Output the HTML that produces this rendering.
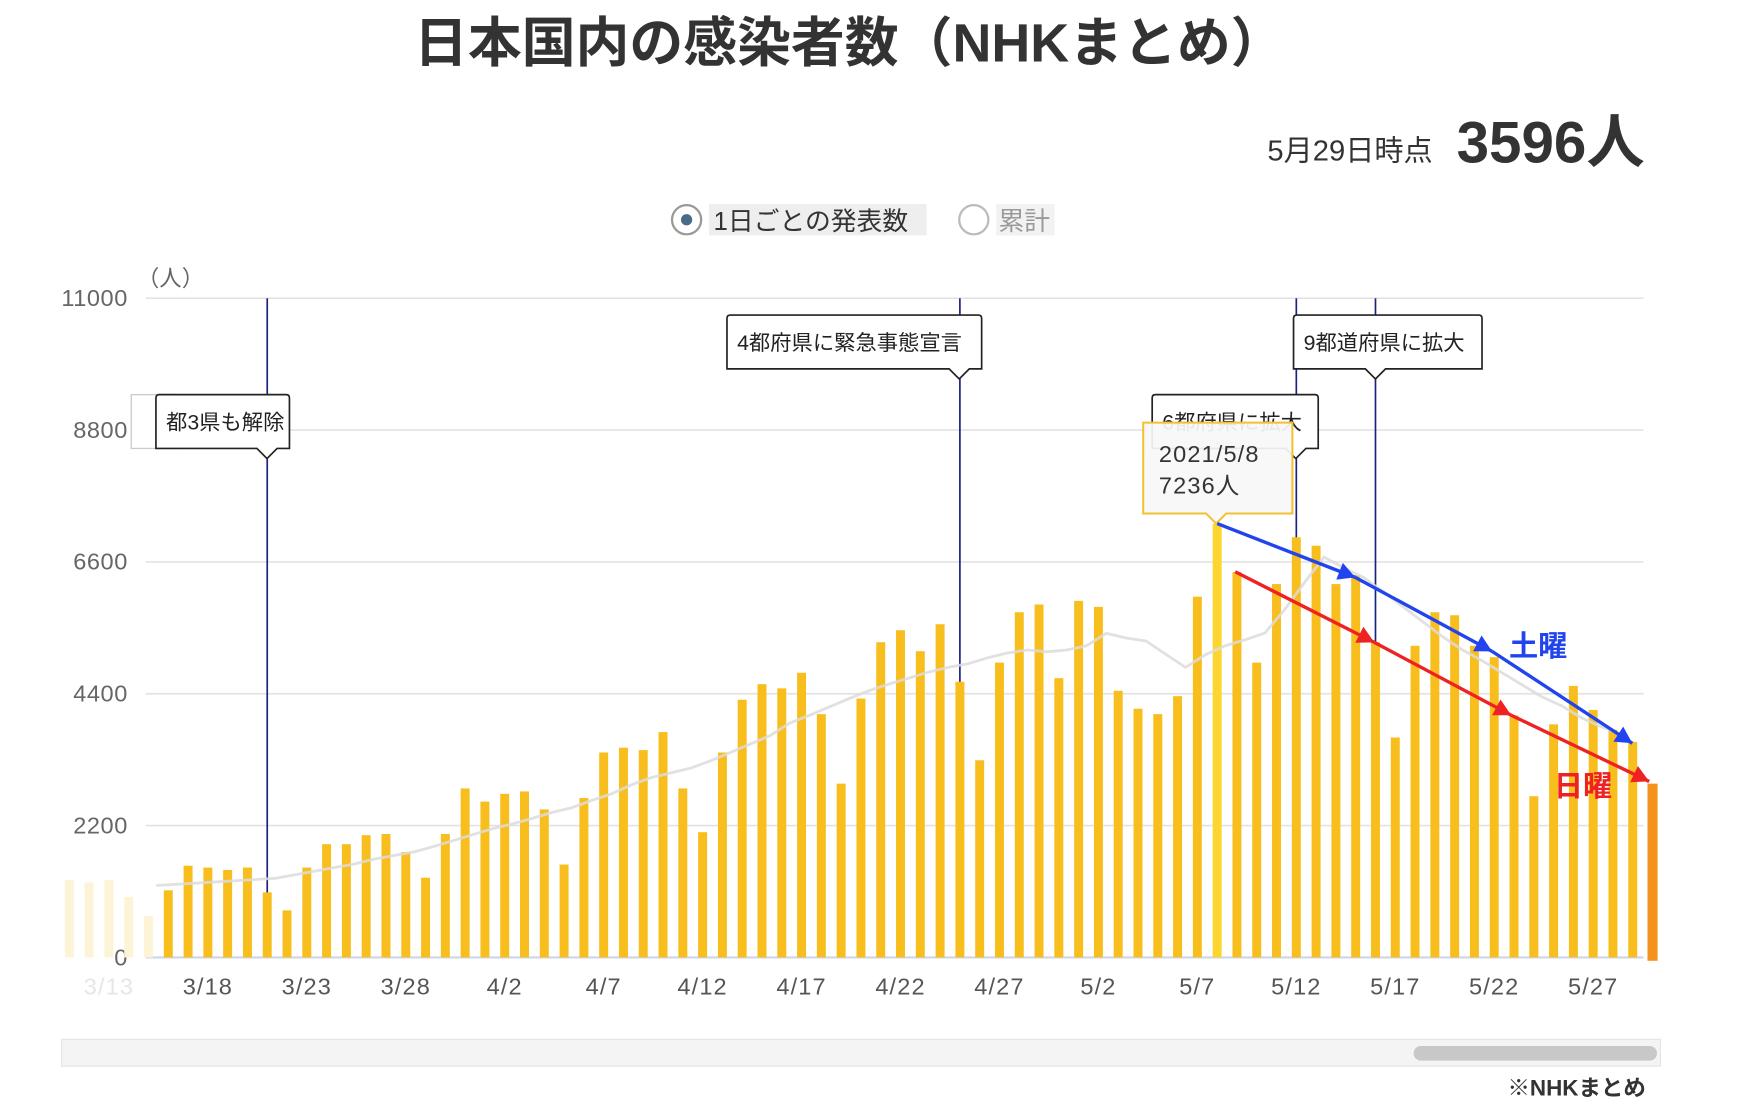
<!DOCTYPE html>
<html><head><meta charset="utf-8">
<style>
html,body{margin:0;padding:0;background:#fff;}
svg{display:block;font-family:"Liberation Sans","Noto Sans CJK JP",sans-serif;}
</style></head>
<body>
<svg id="chart" width="1758" height="1120" viewBox="0 0 1567 999" preserveAspectRatio="none" xmlns="http://www.w3.org/2000/svg">
<text x="757" y="55" text-anchor="middle" font-size="48" fill="#333" font-weight="bold">日本国内の感染者数（NHKまとめ）</text>
<text x="1277" y="143" text-anchor="end" font-size="26" fill="#333">5月29日時点</text>
<text x="1466" y="145" text-anchor="end" font-size="52" font-weight="bold" fill="#333">3596人</text>
<g>
<circle cx="612" cy="196" r="13" fill="#fff" stroke="#999" stroke-width="2"/>
<circle cx="612" cy="196" r="5" fill="#4a6a8a"/>
<rect x="632" y="182" width="194" height="28" fill="#eee"/>
<text x="636" y="205" font-size="23" fill="#333">1日ごとの発表数</text>
</g>
<g>
<circle cx="868" cy="196" r="13" fill="#fff" stroke="#bbb" stroke-width="2"/>
<rect x="888" y="182" width="52" height="28" fill="#f2f2f2"/>
<text x="890" y="205" font-size="23" fill="#999">累計</text>
</g>
<text x="122" y="255" font-size="20" fill="#666">（人）</text>
<g id="grid"></g>
<g id="events"></g>
<g id="bars"></g>
<g id="ma"></g>
<g id="xlabels"></g>
<g id="callouts"></g>
<g id="arrows"></g>
<rect x="55" y="927" width="1425" height="24" fill="#f4f4f4" stroke="#e4e4e4"/>
<rect x="1260" y="933" width="217" height="13" rx="6.5" fill="#c8c8c8"/>
<text x="1467" y="977" text-anchor="end" font-size="20" font-weight="bold" fill="#333">※NHKまとめ</text>
</svg>
<script>
const yTicks=[0,2200,4400,6600,8800,11000];
const xTickLabels=["3/13","3/18","3/23","3/28","4/2","4/7","4/12","4/17","4/22","4/27","5/2","5/7","5/12","5/17","5/22","5/27"];
const fadedValues=[1290,1250,1290,1010,690];
const dailyValues=[1120,1530,1500,1460,1500,1085,785,1500,1890,1890,2040,2060,1760,1330,2060,2820,2600,2730,2770,2470,1550,2660,3420,3500,3460,3760,2820,2090,3420,4300,4560,4490,4750,4060,2900,4320,5260,5460,5110,5560,4600,3290,4920,5760,5890,4660,5950,5850,4450,4150,4060,4360,6020,7236,6430,4920,6230,7010,6870,6230,6380,5260,3670,5200,5760,5710,5200,5010,4040,2690,3890,4530,4130,3800,3596];
const movingAvg=[1200,1220,1240,1260,1280,1300,1320,1380,1440,1500,1560,1640,1700,1760,1850,1950,2050,2150,2230,2320,2420,2500,2620,2730,2880,3000,3080,3160,3280,3420,3560,3700,3910,4040,4180,4320,4450,4560,4660,4760,4840,4900,5000,5080,5130,5100,5130,5200,5410,5330,5280,5060,4840,5050,5200,5300,5410,5800,6250,6680,6500,6340,6100,5850,5600,5350,5130,4950,4750,4550,4350,4200,4000,3850,3720];
const eventDays=[5,40,57,61];
const NS="http://www.w3.org/2000/svg";
const X0=150,DX=17.64,Y0=854,YH=588,YMAX=11000;
function xd(i){return X0+i*DX;}
function yv(v){return Y0-v/YMAX*YH;}
function mk(t,a,p){const e=document.createElementNS(NS,t);for(const k in a)e.setAttribute(k,a[k]);(p||document.getElementById('chart')).appendChild(e);return e;}
const grid=document.getElementById('grid');
yTicks.forEach(v=>{
 const l=mk('line',{x1:130,x2:1465,y1:yv(v),y2:yv(v),stroke:v===0?'#ccd6eb':'#e3e3e3','stroke-width':v===0?2:1.5},grid);
 
 
 const t=mk('text',{x:114,y:yv(v)+7,'text-anchor':'end','font-size':21,fill:'#666','letter-spacing':0.5},grid);
 t.textContent=v;
 
 
});
const ev=document.getElementById('events');
eventDays.forEach(d=>{
 const l=mk('line',{x1:xd(d),x2:xd(d),y1:266,y2:854,stroke:'#1a237e','stroke-width':1.5},ev);
 
 
});
const bars=document.getElementById('bars');
fadedValues.forEach((v,i)=>{
 const r=mk('rect',{x:xd(i-5)-4,y:yv(v),width:8,height:Y0-yv(v),fill:'#fdf3d6'},bars);
 
 
});
dailyValues.forEach((v,i)=>{
 const r=mk('rect',{x:xd(i)-4,y:yv(v),width:8,height:Y0-yv(v),fill:i===53?'#fcd62e':'#f8be1e'},bars);
 
 
});
const ob=mk('rect',{x:xd(75)-4.5,y:yv(2900),width:9,height:Y0-yv(2900)+3,fill:'#f5921e'},bars);


const ma=document.getElementById('ma');
const pl=mk('polyline',{points:movingAvg.map((v,i)=>xd(i-0.6)+','+yv(v)).join(' '),fill:'none',stroke:'#dcdcdc','stroke-width':2.5,opacity:0.85},ma);


const xl=document.getElementById('xlabels');
xTickLabels.forEach((s,i)=>{
 const t=mk('text',{x:xd(i*5-3),y:887,'text-anchor':'middle','font-size':21,fill:i===0?'#e6e6e6':'#555','letter-spacing':1},xl);
 t.textContent=s;
 
 
});
const co=document.getElementById('callouts');
function callout(x,y,w,px,text,name,stroke,fill){
 const g=mk('g',{},co);
 
 
 const h=48;
 mk('path',{d:`M${x+3},${y} H${x+w-3} Q${x+w},${y} ${x+w},${y+3} V${y+h} H${px+9} L${px},${y+h+9} L${px-9},${y+h} H${x} V${y+3} Q${x},${y} ${x+3},${y} Z`,fill:fill||'#fff',stroke:stroke||'#222','stroke-width':1.5},g);
 const t=mk('text',{x:x+9,y:y+31,'font-size':19,fill:'#222'},g);
 t.textContent=text;
 return g;
}
const g0=mk('g',{},co);


mk('rect',{x:117,y:352,width:40,height:48,fill:'#fff',stroke:'#ccc','stroke-width':1.2},g0);
callout(139,352,119,238,'都3県も解除','callout-lifted');
callout(648,281,227,855,'4都府県に緊急事態宣言','callout-emergency');
callout(1153,281,168,1226,'9都道府県に拡大','callout-expand-9');
callout(1027,352,148,1155,'6都府県に拡大','callout-expand-6');
const tg=mk('g',{},co);


mk('path',{d:`M1019,377 H1152 V458 H1093 L1084,467 L1075,458 H1019 Z`,fill:'#f7f7f7','fill-opacity':0.93,stroke:'#f2c030','stroke-width':1.8},tg);
const t1=mk('text',{x:1033,y:412,'font-size':21,fill:'#333','letter-spacing':1},tg);t1.textContent='2021/5/8';
const t2=mk('text',{x:1033,y:440,'font-size':21,fill:'#333','letter-spacing':1},tg);t2.textContent='7236人';
const ar=document.getElementById('arrows');
function arrow(pts,color,name){
 const g=mk('g',{},ar);
 
 
 for(let i=0;i<pts.length-1;i++){
  const [a,b]=[pts[i],pts[i+1]];
  mk('line',{x1:a[0],y1:a[1],x2:b[0],y2:b[1],stroke:color,'stroke-width':3},g);
  const ang=Math.atan2(b[1]-a[1],b[0]-a[0]);
  const L=15,W=8;
  const bx=b[0]-L*Math.cos(ang),by=b[1]-L*Math.sin(ang);
  mk('polygon',{points:`${b[0]},${b[1]} ${bx-W*Math.sin(ang)},${by+W*Math.cos(ang)} ${bx+W*Math.sin(ang)},${by-W*Math.cos(ang)}`,fill:color},g);
 }
}
arrow([[1085,467],[1208,515],[1330,581],[1455,663]],'#2244ee','saturday-trend-arrow');
arrow([[1101,510],[1225,573],[1347,638],[1470,697]],'#ee2222','sunday-trend-arrow');
const sl=mk('text',{x:1345,y:585,'font-size':26,'font-weight':'bold',fill:'#2244ee'});
sl.textContent='土曜';


const su=mk('text',{x:1385,y:710,'font-size':26,'font-weight':'bold',fill:'#ee2222'});
su.textContent='日曜';


</script>
</body></html>
